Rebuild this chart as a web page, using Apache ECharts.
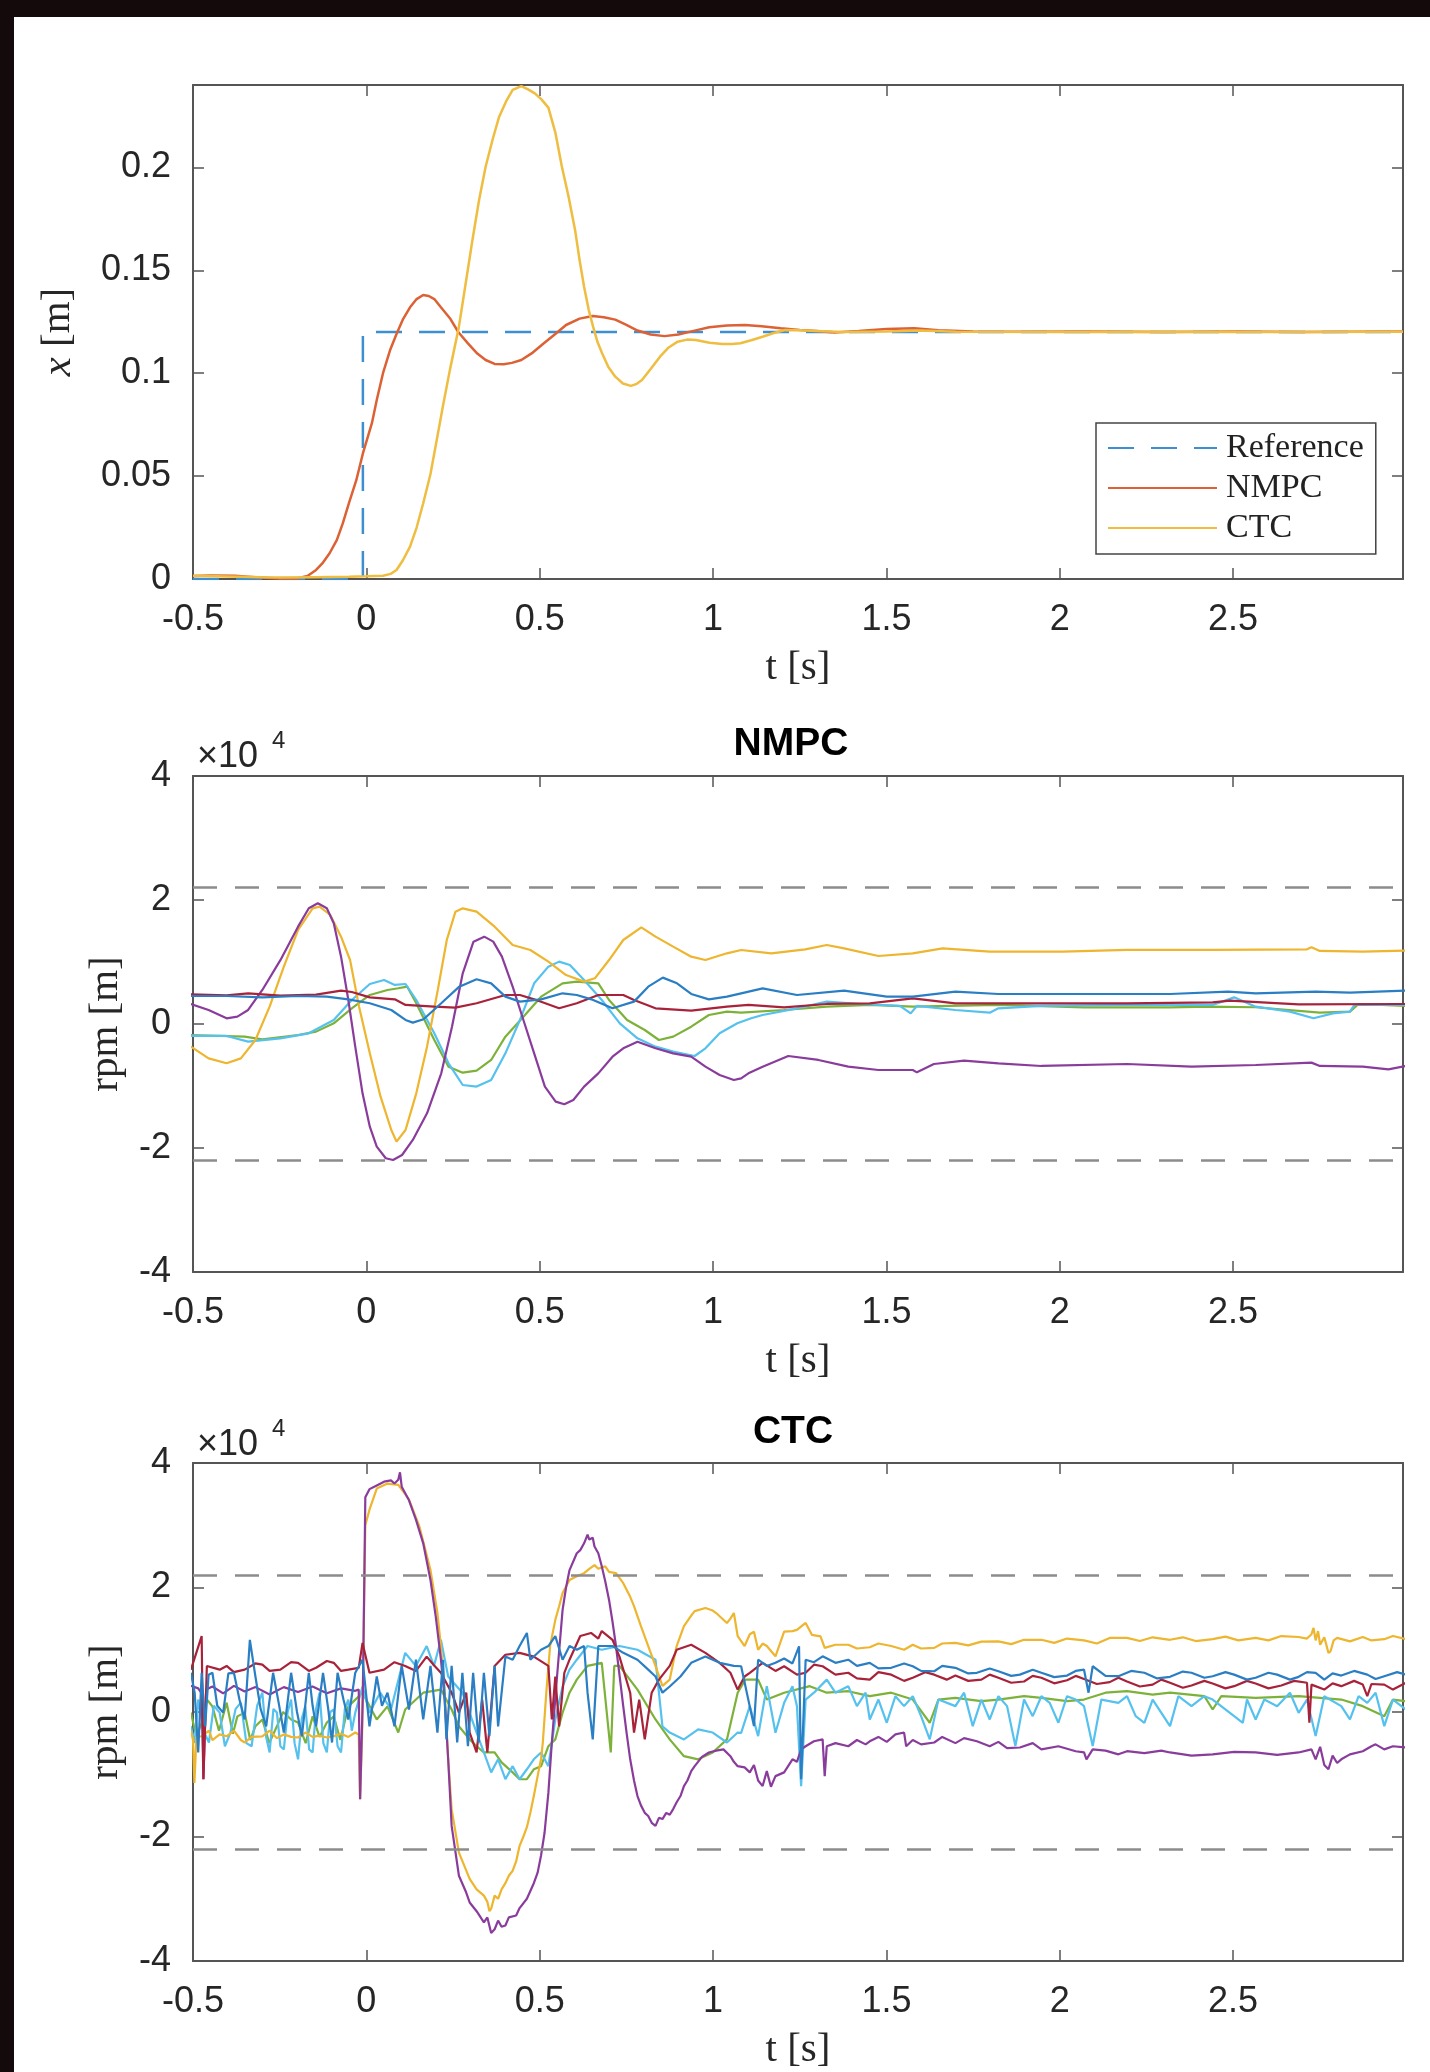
<!DOCTYPE html>
<html><head><meta charset="utf-8">
<script src="https://cdn.jsdelivr.net/npm/echarts@6/dist/echarts.min.js"></script>
<style>
html,body{margin:0;padding:0;width:1430px;height:2072px;background:#140a0c;overflow:hidden;}
#c{position:absolute;left:14px;top:17px;width:1416px;height:2055px;background:#fff;}
</style></head><body><div id="c"></div>
<script>
// ---------- axis ranges / ticks ----------
const T_MIN = -0.5, T_MAX = 2.99, T_STEP = 0.5;
const POS_MIN = 0, POS_MAX = 0.24, POS_STEP = 0.05;
const RPM_MIN = -4, RPM_MAX = 4, RPM_STEP = 2;   // units of 1e4 rpm
const rpmLimits = [2.2, -2.2];
const legendNames = ['Reference', 'NMPC', 'CTC'];

// ---------- top plot: position x [m] vs t [s] ----------
const refPos = [[-0.5,0],[-0.01,0],[-0.01,0.12],[2.99,0.12]];
const nmpcPos = [[-0.5,0.0015],[-0.45,0.0017],[-0.38,0.0016],[-0.32,0.0008],[-0.25,0.0003],[-0.2,0.0003],[-0.17,0.0015],[-0.145,0.0044],[-0.125,0.008],[-0.106,0.0125],[-0.085,0.019],[-0.068,0.027],[-0.05,0.037],[-0.029,0.048],[-0.01,0.061],[0.016,0.0757],[0.03,0.087],[0.048,0.100],[0.068,0.111],[0.087,0.119],[0.105,0.126],[0.126,0.132],[0.145,0.136],[0.164,0.138],[0.18,0.1375],[0.196,0.136],[0.215,0.132],[0.241,0.1267],[0.265,0.12],[0.293,0.1145],[0.32,0.1095],[0.344,0.1064],[0.37,0.1045],[0.396,0.1043],[0.42,0.105],[0.447,0.1064],[0.48,0.110],[0.512,0.1145],[0.545,0.119],[0.576,0.1234],[0.615,0.1265],[0.653,0.1278],[0.685,0.1272],[0.718,0.126],[0.75,0.1235],[0.782,0.1207],[0.82,0.1188],[0.86,0.118],[0.9,0.1188],[0.95,0.1208],[0.989,0.1223],[1.04,0.1232],[1.092,0.1234],[1.14,0.1228],[1.195,0.1218],[1.25,0.121],[1.298,0.1205],[1.35,0.1198],[1.42,0.1205],[1.5,0.1215],[1.58,0.1218],[1.65,0.1208],[1.75,0.1202],[1.9,0.1201],[2.1,0.1203],[2.3,0.1200],[2.5,0.1202],[2.7,0.1200],[2.99,0.1203]];
const ctcPos = [[-0.5,0.0016],[-0.4,0.0012],[-0.3,0.0008],[-0.25,0.0007],[-0.15,0.0009],[-0.05,0.0011],[0.0,0.0013],[0.048,0.0016],[0.07,0.0025],[0.087,0.0044],[0.105,0.009],[0.126,0.0157],[0.145,0.025],[0.164,0.0368],[0.185,0.051],[0.203,0.0675],[0.222,0.085],[0.241,0.1016],[0.267,0.1226],[0.285,0.142],[0.306,0.1647],[0.325,0.184],[0.344,0.2003],[0.365,0.214],[0.383,0.2246],[0.403,0.232],[0.422,0.2376],[0.447,0.2395],[0.465,0.238],[0.486,0.2359],[0.505,0.233],[0.525,0.229],[0.545,0.217],[0.564,0.2003],[0.583,0.186],[0.602,0.1696],[0.615,0.155],[0.628,0.142],[0.641,0.131],[0.654,0.1226],[0.667,0.115],[0.68,0.1097],[0.698,0.103],[0.718,0.0983],[0.74,0.095],[0.763,0.0938],[0.78,0.0948],[0.795,0.0967],[0.82,0.102],[0.847,0.108],[0.872,0.1125],[0.898,0.1153],[0.925,0.1163],[0.950,0.1161],[0.99,0.1148],[1.027,0.1142],[1.055,0.1142],[1.079,0.1145],[1.11,0.116],[1.143,0.1177],[1.175,0.1195],[1.208,0.121],[1.25,0.1208],[1.298,0.1205],[1.375,0.1200],[1.5,0.1202],[1.6,0.1207],[1.7,0.1201],[2.0,0.1200],[2.3,0.1201],[2.6,0.1200],[2.99,0.1201]];

// ---------- middle plot: NMPC motor speeds (x1e4 rpm) ----------
const nmpcBlue = [[-0.506,0.452],[-0.403,0.452],[-0.300,0.43],[-0.197,0.452],[-0.114,0.441],[-0.052,0.398],[0.010,0.334],[0.072,0.226],[0.113,0.065],[0.134,0.022],[0.165,0.076],[0.216,0.334],[0.268,0.602],[0.318,0.721],[0.360,0.656],[0.401,0.441],[0.443,0.361],[0.504,0.398],[0.566,0.495],[0.607,0.468],[0.649,0.398],[0.710,0.253],[0.772,0.361],[0.813,0.602],[0.855,0.748],[0.896,0.656],[0.937,0.484],[0.988,0.398],[1.040,0.441],[1.081,0.495],[1.143,0.575],[1.242,0.468],[1.378,0.538],[1.501,0.441],[1.576,0.441],[1.699,0.522],[1.823,0.484],[2.070,0.484],[2.318,0.484],[2.485,0.522],[2.565,0.495],[2.738,0.522],[2.837,0.506],[2.998,0.538]];
const nmpcRed = [[-0.506,0.479],[-0.403,0.463],[-0.341,0.495],[-0.248,0.457],[-0.145,0.473],[-0.073,0.538],[-0.042,0.516],[0.010,0.43],[0.082,0.398],[0.113,0.307],[0.196,0.28],[0.257,0.264],[0.318,0.334],[0.401,0.468],[0.443,0.468],[0.484,0.398],[0.556,0.253],[0.607,0.334],[0.669,0.468],[0.741,0.468],[0.772,0.387],[0.834,0.253],[0.937,0.215],[1.040,0.28],[1.102,0.307],[1.205,0.269],[1.328,0.323],[1.452,0.334],[1.576,0.414],[1.699,0.334],[1.947,0.334],[2.194,0.334],[2.441,0.35],[2.491,0.377],[2.689,0.317],[2.998,0.323]];
const nmpcYellow = [[-0.506,-0.365],[-0.455,-0.554],[-0.403,-0.634],[-0.362,-0.554],[-0.320,-0.258],[-0.279,0.28],[-0.238,0.925],[-0.197,1.516],[-0.155,1.866],[-0.135,1.893],[-0.104,1.758],[-0.073,1.409],[-0.047,1.032],[-0.021,0.28],[0.010,-0.473],[0.041,-1.172],[0.072,-1.71],[0.087,-1.898],[0.113,-1.71],[0.144,-1.118],[0.175,-0.365],[0.206,0.549],[0.232,1.355],[0.257,1.812],[0.278,1.866],[0.318,1.812],[0.370,1.57],[0.422,1.274],[0.473,1.194],[0.525,1.006],[0.576,0.79],[0.628,0.683],[0.659,0.737],[0.700,1.032],[0.741,1.355],[0.793,1.559],[0.834,1.409],[0.885,1.248],[0.937,1.086],[0.978,1.032],[1.040,1.14],[1.081,1.194],[1.168,1.14],[1.266,1.204],[1.328,1.274],[1.378,1.22],[1.477,1.097],[1.576,1.14],[1.662,1.22],[1.798,1.167],[2.009,1.167],[2.194,1.194],[2.441,1.194],[2.713,1.204],[2.726,1.237],[2.750,1.178],[2.874,1.167],[2.998,1.183]];
const nmpcPurple = [[-0.506,0.323],[-0.455,0.226],[-0.403,0.092],[-0.372,0.118],[-0.341,0.226],[-0.300,0.549],[-0.248,1.03],[-0.197,1.57],[-0.166,1.866],[-0.140,1.947],[-0.114,1.866],[-0.094,1.624],[-0.073,1.086],[-0.052,0.387],[-0.032,-0.365],[-0.011,-1.118],[0.010,-1.656],[0.030,-1.978],[0.056,-2.166],[0.077,-2.193],[0.103,-2.113],[0.134,-1.87],[0.175,-1.44],[0.216,-0.796],[0.247,-0.043],[0.278,0.818],[0.309,1.328],[0.340,1.409],[0.366,1.328],[0.391,1.086],[0.422,0.602],[0.453,0.065],[0.484,-0.473],[0.515,-1.01],[0.546,-1.252],[0.571,-1.295],[0.597,-1.226],[0.628,-1.01],[0.669,-0.796],[0.710,-0.527],[0.741,-0.392],[0.782,-0.285],[0.834,-0.392],[0.885,-0.473],[0.937,-0.527],[0.978,-0.688],[1.019,-0.822],[1.060,-0.903],[1.081,-0.876],[1.102,-0.796],[1.143,-0.688],[1.217,-0.516],[1.304,-0.58],[1.390,-0.688],[1.477,-0.742],[1.576,-0.742],[1.588,-0.78],[1.637,-0.645],[1.724,-0.591],[1.823,-0.634],[1.947,-0.677],[2.194,-0.645],[2.380,-0.688],[2.565,-0.661],[2.726,-0.623],[2.750,-0.677],[2.874,-0.688],[2.948,-0.731],[2.998,-0.677]];
const nmpcGreen = [[-0.506,-0.177],[-0.351,-0.204],[-0.300,-0.247],[-0.197,-0.177],[-0.145,-0.123],[-0.094,0.011],[-0.042,0.253],[0.010,0.468],[0.061,0.549],[0.092,0.576],[0.118,0.602],[0.144,0.334],[0.196,-0.258],[0.237,-0.688],[0.278,-0.785],[0.318,-0.753],[0.360,-0.58],[0.401,-0.204],[0.453,0.118],[0.504,0.441],[0.566,0.656],[0.607,0.683],[0.669,0.656],[0.700,0.387],[0.752,0.065],[0.803,-0.097],[0.844,-0.258],[0.885,-0.204],[0.937,-0.043],[0.988,0.145],[1.040,0.199],[1.081,0.183],[1.205,0.226],[1.328,0.28],[1.452,0.307],[1.576,0.28],[1.823,0.307],[2.070,0.269],[2.318,0.269],[2.429,0.28],[2.565,0.27],[2.750,0.183],[2.837,0.199],[2.862,0.323],[2.998,0.291]];
const nmpcCyan = [[-0.506,-0.193],[-0.403,-0.193],[-0.341,-0.285],[-0.248,-0.231],[-0.166,-0.15],[-0.094,0.065],[-0.042,0.387],[0.010,0.645],[0.051,0.71],[0.082,0.63],[0.113,0.645],[0.144,0.387],[0.196,-0.15],[0.237,-0.634],[0.278,-0.984],[0.318,-1.01],[0.360,-0.903],[0.401,-0.473],[0.443,0.065],[0.484,0.656],[0.525,0.925],[0.556,1.006],[0.587,0.952],[0.628,0.71],[0.679,0.387],[0.731,0.011],[0.782,-0.231],[0.834,-0.365],[0.885,-0.446],[0.947,-0.516],[0.978,-0.392],[1.019,-0.15],[1.070,0.011],[1.110,0.092],[1.143,0.145],[1.242,0.253],[1.328,0.361],[1.427,0.323],[1.539,0.291],[1.570,0.172],[1.588,0.291],[1.699,0.226],[1.798,0.183],[1.823,0.253],[1.947,0.291],[2.194,0.307],[2.441,0.307],[2.503,0.43],[2.565,0.28],[2.664,0.199],[2.732,0.092],[2.788,0.172],[2.837,0.199],[2.850,0.307],[2.998,0.307]];

// ---------- bottom plot: CTC motor speeds (x1e4 rpm) ----------
const ctcBlue = [[-0.506,0.63],[-0.495,0.30],[-0.485,-0.65],[-0.475,0.63],[-0.465,-0.23],[-0.455,0.60],[-0.444,0.63],[-0.430,0.10],[-0.413,-0.01],[-0.398,0.62],[-0.382,0.63],[-0.366,0.20],[-0.351,-0.12],[-0.336,1.16],[-0.320,0.57],[-0.305,0.05],[-0.289,-0.23],[-0.269,0.63],[-0.253,0.15],[-0.238,-0.33],[-0.217,0.63],[-0.200,0.00],[-0.186,-0.39],[-0.166,0.63],[-0.155,0.10],[-0.145,-0.23],[-0.125,0.63],[-0.110,0.05],[-0.099,-0.49],[-0.083,0.63],[-0.066,0.20],[-0.052,-0.12],[-0.032,0.63],[-0.011,0.84],[0.009,-0.23],[0.030,0.57],[0.045,0.10],[0.061,0.31],[0.081,-0.23],[0.102,0.74],[0.123,0.04],[0.143,0.84],[0.164,-0.12],[0.185,0.74],[0.205,-0.33],[0.221,0.84],[0.231,-0.44],[0.246,0.74],[0.262,-0.49],[0.277,0.63],[0.293,-0.55],[0.308,0.63],[0.324,-0.49],[0.339,0.63],[0.355,-0.39],[0.370,0.74],[0.380,-0.23],[0.401,0.89],[0.422,0.84],[0.442,1.06],[0.463,1.27],[0.473,0.84],[0.504,1.0],[0.525,1.06],[0.545,1.22],[0.566,0.84],[0.586,1.06],[0.607,1.0],[0.628,1.06],[0.638,0.31],[0.653,-0.44],[0.669,1.06],[0.710,1.06],[0.741,0.95],[0.782,0.84],[0.813,0.68],[0.834,0.57],[0.854,0.31],[0.875,0.41],[0.906,0.57],[0.937,0.79],[0.978,0.89],[1.019,0.79],[1.060,0.74],[1.081,0.735],[1.118,-0.227],[1.130,0.84],[1.155,0.74],[1.180,0.79],[1.205,0.86],[1.229,0.78],[1.248,1.055],[1.254,-1.08],[1.267,0.84],[1.291,0.80],[1.316,0.895],[1.353,0.79],[1.390,0.84],[1.415,0.74],[1.452,0.79],[1.477,0.70],[1.514,0.71],[1.551,0.78],[1.576,0.735],[1.600,0.66],[1.638,0.655],[1.661,0.74],[1.699,0.71],[1.736,0.62],[1.761,0.63],[1.798,0.70],[1.823,0.655],[1.860,0.58],[1.885,0.60],[1.922,0.68],[1.947,0.63],[1.984,0.56],[2.021,0.585],[2.046,0.66],[2.070,0.68],[2.083,0.31],[2.095,0.735],[2.132,0.58],[2.169,0.575],[2.206,0.66],[2.244,0.63],[2.281,0.54],[2.318,0.565],[2.355,0.65],[2.380,0.63],[2.417,0.55],[2.441,0.575],[2.478,0.64],[2.503,0.60],[2.540,0.52],[2.565,0.55],[2.602,0.63],[2.627,0.60],[2.664,0.52],[2.689,0.565],[2.713,0.64],[2.738,0.63],[2.763,0.52],[2.787,0.62],[2.812,0.585],[2.849,0.66],[2.887,0.60],[2.911,0.53],[2.936,0.575],[2.973,0.64],[2.998,0.60]];
const ctcRed = [[-0.506,0.68],[-0.475,1.22],[-0.470,-1.08],[-0.460,0.74],[-0.423,0.68],[-0.403,0.74],[-0.382,0.64],[-0.351,0.68],[-0.320,0.78],[-0.300,0.76],[-0.279,0.66],[-0.248,0.68],[-0.217,0.80],[-0.197,0.79],[-0.166,0.66],[-0.145,0.71],[-0.114,0.82],[-0.094,0.79],[-0.073,0.66],[-0.052,0.68],[-0.022,0.71],[-0.011,1.11],[0.009,0.63],[0.051,0.68],[0.081,0.80],[0.112,0.74],[0.143,0.66],[0.174,0.89],[0.195,0.75],[0.215,0.63],[0.246,0.31],[0.267,-0.01],[0.288,0.31],[0.298,-0.33],[0.318,-0.65],[0.334,0.20],[0.349,-0.65],[0.370,0.74],[0.401,0.92],[0.442,0.95],[0.483,0.89],[0.525,0.74],[0.535,-0.12],[0.545,0.57],[0.556,-0.23],[0.571,0.63],[0.586,0.84],[0.617,1.22],[0.648,1.27],[0.669,1.18],[0.679,1.30],[0.710,1.16],[0.730,0.89],[0.761,0.31],[0.772,-0.33],[0.787,0.20],[0.803,-0.44],[0.823,0.31],[0.844,0.52],[0.875,0.74],[0.895,1.0],[0.937,1.08],[0.978,0.95],[1.019,0.79],[1.050,0.63],[1.071,0.36],[1.091,0.57],[1.106,0.63],[1.143,0.79],[1.180,0.66],[1.205,0.735],[1.242,0.60],[1.267,0.63],[1.291,0.76],[1.316,0.735],[1.353,0.60],[1.390,0.63],[1.415,0.54],[1.452,0.52],[1.477,0.64],[1.514,0.60],[1.551,0.50],[1.576,0.55],[1.612,0.64],[1.638,0.60],[1.674,0.52],[1.699,0.585],[1.736,0.50],[1.774,0.52],[1.798,0.60],[1.823,0.55],[1.860,0.47],[1.897,0.49],[1.922,0.58],[1.947,0.55],[1.984,0.46],[2.021,0.51],[2.046,0.58],[2.070,0.53],[2.107,0.45],[2.144,0.48],[2.169,0.55],[2.194,0.49],[2.231,0.41],[2.268,0.44],[2.293,0.52],[2.318,0.47],[2.355,0.39],[2.380,0.425],[2.417,0.50],[2.441,0.457],[2.478,0.38],[2.503,0.415],[2.540,0.50],[2.565,0.457],[2.602,0.38],[2.639,0.425],[2.676,0.50],[2.713,0.47],[2.720,-0.173],[2.726,0.44],[2.763,0.36],[2.787,0.46],[2.812,0.415],[2.849,0.50],[2.874,0.44],[2.887,0.254],[2.899,0.45],[2.936,0.44],[2.961,0.36],[2.998,0.47]];
const ctcYellow = [[-0.506,-0.30],[-0.500,-0.45],[-0.496,-1.14],[-0.490,-0.40],[-0.475,-0.39],[-0.454,-0.30],[-0.444,-0.45],[-0.423,-0.36],[-0.403,-0.39],[-0.382,-0.30],[-0.362,-0.45],[-0.351,-0.49],[-0.331,-0.40],[-0.300,-0.39],[-0.279,-0.30],[-0.258,-0.42],[-0.238,-0.36],[-0.217,-0.40],[-0.197,-0.41],[-0.176,-0.33],[-0.155,-0.40],[-0.135,-0.38],[-0.114,-0.41],[-0.094,-0.39],[-0.073,-0.35],[-0.052,-0.40],[-0.032,-0.33],[-0.022,-0.36],[-0.018,-1.40],[-0.012,-0.30],[-0.003,3.00],[0.009,3.25],[0.030,3.59],[0.061,3.67],[0.092,3.65],[0.112,3.50],[0.123,3.41],[0.153,2.98],[0.185,2.28],[0.205,1.59],[0.215,1.06],[0.226,0.31],[0.236,-0.76],[0.246,-1.56],[0.267,-2.26],[0.298,-2.68],[0.318,-2.85],[0.339,-2.95],[0.349,-3.05],[0.355,-3.20],[0.360,-3.16],[0.370,-2.95],[0.380,-3.00],[0.390,-2.85],[0.401,-2.75],[0.411,-2.63],[0.422,-2.55],[0.432,-2.40],[0.442,-2.15],[0.453,-2.0],[0.463,-1.85],[0.473,-1.62],[0.483,-1.35],[0.494,-1.03],[0.504,-0.75],[0.509,-0.49],[0.519,0.31],[0.530,1.06],[0.545,1.48],[0.556,1.70],[0.566,1.91],[0.586,2.12],[0.607,2.18],[0.628,2.23],[0.643,2.30],[0.658,2.36],[0.669,2.30],[0.689,2.34],[0.700,2.25],[0.720,2.23],[0.741,2.07],[0.761,1.85],[0.772,1.70],[0.792,1.38],[0.813,1.06],[0.834,0.74],[0.854,0.42],[0.875,0.52],[0.895,1.06],[0.916,1.38],[0.937,1.55],[0.947,1.62],[0.978,1.67],[0.999,1.63],[1.009,1.59],[1.040,1.43],[1.050,1.50],[1.060,1.59],[1.071,1.22],[1.091,1.06],[1.106,1.25],[1.118,1.29],[1.130,1.00],[1.143,1.10],[1.155,1.06],[1.180,0.895],[1.205,1.29],[1.229,1.30],[1.242,1.32],[1.267,1.43],[1.285,1.24],[1.310,1.215],[1.322,1.03],[1.353,1.08],[1.390,1.08],[1.415,1.02],[1.452,1.04],[1.477,1.10],[1.514,1.06],[1.551,1.00],[1.576,1.08],[1.600,1.02],[1.638,1.03],[1.661,1.10],[1.699,1.11],[1.736,1.07],[1.774,1.13],[1.823,1.135],[1.860,1.09],[1.897,1.16],[1.947,1.16],[1.984,1.11],[2.021,1.18],[2.070,1.15],[2.107,1.10],[2.144,1.19],[2.194,1.19],[2.231,1.14],[2.268,1.20],[2.318,1.16],[2.355,1.20],[2.392,1.14],[2.441,1.17],[2.478,1.21],[2.515,1.15],[2.565,1.19],[2.602,1.15],[2.639,1.22],[2.689,1.205],[2.713,1.18],[2.726,1.25],[2.732,1.35],[2.738,1.15],[2.745,1.30],[2.751,1.08],[2.763,1.20],[2.775,0.95],[2.781,0.975],[2.790,1.15],[2.800,1.19],[2.837,1.135],[2.874,1.205],[2.899,1.15],[2.936,1.17],[2.961,1.22],[2.998,1.17]];
const ctcPurple = [[-0.506,0.42],[-0.485,0.38],[-0.475,0.30],[-0.470,-1.08],[-0.462,0.36],[-0.444,0.41],[-0.413,0.30],[-0.382,0.42],[-0.351,0.33],[-0.320,0.40],[-0.279,0.28],[-0.238,0.40],[-0.197,0.32],[-0.155,0.41],[-0.114,0.30],[-0.073,0.38],[-0.032,0.34],[-0.022,0.36],[-0.018,-1.40],[-0.010,0.30],[-0.003,3.45],[0.009,3.58],[0.030,3.64],[0.051,3.70],[0.071,3.72],[0.081,3.67],[0.092,3.73],[0.097,3.85],[0.102,3.62],[0.123,3.40],[0.143,3.09],[0.164,2.71],[0.185,2.12],[0.200,1.54],[0.215,0.85],[0.226,0.20],[0.236,-0.76],[0.246,-1.83],[0.267,-2.63],[0.288,-2.90],[0.298,-3.06],[0.318,-3.20],[0.339,-3.38],[0.349,-3.30],[0.360,-3.55],[0.370,-3.49],[0.380,-3.35],[0.390,-3.45],[0.401,-3.43],[0.411,-3.30],[0.432,-3.27],[0.442,-3.15],[0.463,-3.0],[0.483,-2.75],[0.494,-2.58],[0.504,-2.30],[0.514,-1.94],[0.525,-1.30],[0.535,-0.49],[0.550,0.57],[0.566,1.64],[0.576,2.0],[0.586,2.28],[0.607,2.55],[0.617,2.60],[0.628,2.71],[0.638,2.85],[0.643,2.77],[0.653,2.80],[0.658,2.66],[0.669,2.55],[0.679,2.34],[0.689,2.10],[0.700,1.80],[0.710,1.45],[0.720,1.06],[0.730,0.60],[0.741,0.09],[0.751,-0.35],[0.761,-0.76],[0.772,-1.10],[0.782,-1.35],[0.792,-1.50],[0.803,-1.62],[0.813,-1.67],[0.823,-1.78],[0.834,-1.83],[0.844,-1.70],[0.854,-1.72],[0.865,-1.62],[0.875,-1.65],[0.885,-1.56],[0.895,-1.45],[0.906,-1.35],[0.916,-1.19],[0.926,-1.10],[0.937,-0.95],[0.947,-0.87],[0.968,-0.72],[0.988,-0.65],[1.009,-0.62],[1.030,-0.60],[1.050,-0.71],[1.060,-0.80],[1.071,-0.87],[1.091,-0.89],[1.106,-0.97],[1.118,-0.85],[1.130,-1.10],[1.143,-1.19],[1.155,-0.95],[1.167,-1.20],[1.180,-1.03],[1.205,-0.97],[1.229,-0.76],[1.242,-0.80],[1.254,-0.60],[1.267,-0.55],[1.291,-0.47],[1.316,-0.44],[1.322,-1.03],[1.328,-0.55],[1.353,-0.50],[1.390,-0.55],[1.415,-0.45],[1.440,-0.52],[1.452,-0.47],[1.477,-0.40],[1.501,-0.48],[1.526,-0.36],[1.551,-0.33],[1.557,-0.55],[1.576,-0.45],[1.600,-0.52],[1.638,-0.49],[1.661,-0.40],[1.699,-0.50],[1.724,-0.42],[1.761,-0.47],[1.798,-0.55],[1.823,-0.48],[1.848,-0.58],[1.885,-0.57],[1.922,-0.50],[1.947,-0.60],[1.996,-0.55],[2.046,-0.63],[2.070,-0.65],[2.077,-0.76],[2.095,-0.60],[2.132,-0.62],[2.169,-0.68],[2.194,-0.63],[2.244,-0.66],[2.293,-0.62],[2.318,-0.65],[2.380,-0.70],[2.441,-0.68],[2.503,-0.64],[2.565,-0.65],[2.627,-0.69],[2.689,-0.65],[2.726,-0.60],[2.738,-0.76],[2.751,-0.56],[2.763,-0.85],[2.775,-0.92],[2.787,-0.70],[2.800,-0.82],[2.812,-0.76],[2.837,-0.68],[2.874,-0.63],[2.899,-0.55],[2.911,-0.52],[2.936,-0.60],[2.961,-0.55],[2.998,-0.57]];
const ctcGreen = [[-0.506,-0.01],[-0.490,-0.40],[-0.475,-0.17],[-0.460,0.20],[-0.444,0.09],[-0.425,-0.30],[-0.403,0.15],[-0.385,-0.35],[-0.372,-0.07],[-0.351,-0.01],[-0.335,-0.45],[-0.320,-0.23],[-0.300,-0.12],[-0.280,-0.50],[-0.258,-0.23],[-0.240,0.00],[-0.217,-0.12],[-0.197,-0.17],[-0.175,-0.50],[-0.155,-0.07],[-0.135,-0.40],[-0.114,-0.17],[-0.094,-0.07],[-0.075,-0.45],[-0.052,0.09],[-0.011,0.31],[0.030,-0.12],[0.061,0.09],[0.092,-0.33],[0.112,0.04],[0.164,0.31],[0.215,0.36],[0.246,0.04],[0.267,-0.23],[0.298,-0.44],[0.318,-0.55],[0.339,-0.65],[0.370,-0.65],[0.390,-0.81],[0.422,-0.97],[0.442,-1.08],[0.463,-1.08],[0.483,-0.92],[0.504,-0.87],[0.525,-0.55],[0.545,-0.44],[0.566,-0.01],[0.586,0.31],[0.607,0.52],[0.638,0.74],[0.679,0.79],[0.705,-0.65],[0.715,0.74],[0.730,0.74],[0.782,0.36],[0.834,-0.12],[0.875,-0.44],[0.916,-0.71],[0.957,-0.76],[0.999,-0.65],[1.040,-0.44],[1.071,0.31],[1.093,0.52],[1.130,0.52],[1.155,0.20],[1.205,0.31],[1.279,0.415],[1.328,0.31],[1.390,0.334],[1.452,0.254],[1.514,0.31],[1.576,0.20],[1.625,-0.173],[1.650,0.20],[1.699,0.227],[1.774,0.174],[1.823,0.20],[1.897,0.254],[1.947,0.227],[2.021,0.174],[2.070,0.20],[2.132,0.31],[2.194,0.334],[2.268,0.28],[2.318,0.31],[2.417,0.254],[2.441,0.04],[2.466,0.254],[2.565,0.227],[2.689,0.254],[2.812,0.20],[2.874,0.094],[2.936,-0.067],[2.961,0.20],[2.998,0.174]];
const ctcCyan = [[-0.506,-0.23],[-0.495,-0.50],[-0.485,0.20],[-0.470,-0.30],[-0.454,-0.49],[-0.440,0.10],[-0.423,-0.01],[-0.408,-0.55],[-0.392,-0.33],[-0.377,0.05],[-0.362,0.15],[-0.346,-0.50],[-0.331,-0.55],[-0.315,0.10],[-0.300,0.31],[-0.289,-0.40],[-0.279,-0.65],[-0.268,0.05],[-0.258,-0.01],[-0.248,-0.55],[-0.238,-0.60],[-0.227,0.00],[-0.217,0.20],[-0.207,-0.50],[-0.197,-0.76],[-0.186,-0.10],[-0.176,0.09],[-0.165,-0.60],[-0.155,-0.65],[-0.145,0.05],[-0.135,0.31],[-0.124,-0.50],[-0.114,-0.65],[-0.104,0.00],[-0.094,0.04],[-0.083,-0.55],[-0.073,-0.65],[-0.062,0.05],[-0.052,0.20],[-0.042,-0.30],[-0.032,-0.01],[-0.011,0.41],[0.009,-0.01],[0.040,0.31],[0.071,0.04],[0.112,0.95],[0.143,0.74],[0.174,1.06],[0.195,0.74],[0.215,1.16],[0.236,0.57],[0.277,0.31],[0.318,-0.33],[0.339,-0.65],[0.360,-0.97],[0.380,-0.76],[0.401,-1.08],[0.422,-0.87],[0.442,-1.08],[0.463,-0.92],[0.483,-0.76],[0.504,-0.65],[0.525,-0.87],[0.545,-0.12],[0.566,0.41],[0.586,0.68],[0.607,0.84],[0.638,1.06],[0.679,1.0],[0.730,1.06],[0.782,1.0],[0.834,0.84],[0.854,-0.23],[0.875,-0.33],[0.916,-0.44],[0.957,-0.28],[0.999,-0.33],[1.040,-0.49],[1.071,-0.33],[1.081,-0.334],[1.106,0.094],[1.130,-0.387],[1.155,0.415],[1.180,-0.334],[1.205,0.147],[1.229,0.415],[1.242,0.094],[1.254,-1.19],[1.267,0.20],[1.291,0.31],[1.328,0.52],[1.353,0.31],[1.390,0.415],[1.415,0.094],[1.440,0.31],[1.452,-0.12],[1.477,0.20],[1.501,-0.173],[1.526,0.254],[1.551,0.094],[1.576,0.254],[1.600,-0.067],[1.625,-0.44],[1.650,0.20],[1.699,0.094],[1.724,0.31],[1.749,-0.227],[1.774,0.20],[1.798,-0.12],[1.823,0.254],[1.848,0.094],[1.872,-0.547],[1.897,0.20],[1.922,-0.067],[1.947,0.254],[1.971,0.147],[1.996,-0.173],[2.021,0.254],[2.046,0.20],[2.070,0.094],[2.095,-0.547],[2.120,0.20],[2.169,0.147],[2.194,0.254],[2.219,-0.067],[2.244,-0.173],[2.268,0.20],[2.293,-0.013],[2.318,-0.227],[2.342,0.254],[2.380,0.094],[2.417,0.254],[2.441,0.20],[2.503,-0.067],[2.528,-0.173],[2.540,0.20],[2.565,-0.12],[2.590,0.20],[2.627,0.094],[2.664,0.31],[2.689,-0.013],[2.713,0.20],[2.738,-0.387],[2.763,0.254],[2.812,0.094],[2.837,-0.12],[2.862,0.254],[2.887,0.147],[2.911,0.31],[2.936,-0.227],[2.961,0.20],[2.998,0.04]];

// ---------- styling ----------
const AX = '#555';
const LBL = '#262626';
const C = {blue:'#2a7ec4', red:'#a8223a', yellow:'#eeb52e', purple:'#8a3c9c', green:'#7db23a', cyan:'#55c1ee'};
const GRIDS = [
  {left:179, right:27, top:68, height:494},
  {left:179, right:27, top:759, height:496},
  {left:179, right:27, top:1446, height:499}
];

function axLine(){ return {show:true, onZero:false, lineStyle:{color:AX, width:2}}; }
function axTick(){ return {show:true, inside:true, length:11, lineStyle:{color:AX, width:1.5}}; }

const xAxis = [], yAxis = [];
GRIDS.forEach((g, i) => {
  xAxis.push({type:'value', gridIndex:i, position:'bottom', min:T_MIN, max:T_MAX, interval:T_STEP,
    axisLine:axLine(), axisTick:axTick(), splitLine:{show:false},
    axisLabel:{margin:23, fontSize:36, color:LBL, fontFamily:'Liberation Sans', showMaxLabel:false},
    name:'t [s]', nameLocation:'middle', nameGap:69,
    nameTextStyle:{fontFamily:'Liberation Serif', fontSize:41, color:LBL}});
  xAxis.push({type:'value', gridIndex:i, position:'top', min:T_MIN, max:T_MAX, interval:T_STEP,
    axisLine:axLine(), axisTick:axTick(), splitLine:{show:false}, axisLabel:{show:false}});
  const isPos = i === 0;
  yAxis.push({type:'value', gridIndex:i, position:'left',
    min: isPos ? POS_MIN : RPM_MIN, max: isPos ? POS_MAX : RPM_MAX, interval: isPos ? POS_STEP : RPM_STEP,
    axisLine:axLine(), axisTick:axTick(), splitLine:{show:false},
    axisLabel:{margin:22, fontSize:36, color:LBL, fontFamily:'Liberation Sans', showMaxLabel: isPos ? false : true},
    name: isPos ? '{i|x} [m]' : 'rpm [m]', nameLocation:'middle', nameGap: isPos ? 113 : 66,
    nameTextStyle:{fontFamily:'Liberation Serif', fontSize:41, color:LBL,
      rich:{i:{fontFamily:'Liberation Serif', fontStyle:'italic', fontSize:43, color:LBL}}}});
  yAxis.push({type:'value', gridIndex:i, position:'right',
    min: isPos ? POS_MIN : RPM_MIN, max: isPos ? POS_MAX : RPM_MAX, interval: isPos ? POS_STEP : RPM_STEP,
    axisLine:axLine(), axisTick:axTick(), splitLine:{show:false}, axisLabel:{show:false}});
});

function line(name, data, color, gi, extra) {
  return Object.assign({type:'line', name, data, xAxisIndex:gi*2, yAxisIndex:gi*2,
    symbol:'none', showSymbol:false, clip:true, silent:true, animation:false,
    lineStyle:{color, width:2.2}, itemStyle:{color}}, extra || {});
}
function limitLines() {
  return {silent:true, symbol:'none', animation:false, label:{show:false},
    lineStyle:{type:[24,18], color:'#8c8c8c', width:2.5},
    data: rpmLimits.map(v => ({yAxis:v}))};
}

const series = [
  line('Reference', refPos, '#3d8fd1', 0, {lineStyle:{color:'#3d8fd1', width:2.5, type:[26,17]}}),
  line('NMPC', nmpcPos, '#dc6134', 0, {lineStyle:{color:'#dc6134', width:2.5}}),
  line('CTC', ctcPos, '#efbd3f', 0, {lineStyle:{color:'#efbd3f', width:2.5}}),

  line('n-green', nmpcGreen, C.green, 1, {markLine: limitLines()}),
  line('n-cyan', nmpcCyan, C.cyan, 1),
  line('n-yellow', nmpcYellow, C.yellow, 1),
  line('n-purple', nmpcPurple, C.purple, 1),
  line('n-red', nmpcRed, C.red, 1),
  line('n-blue', nmpcBlue, C.blue, 1),

  line('c-green', ctcGreen, C.green, 2, {markLine: limitLines()}),
  line('c-cyan', ctcCyan, C.cyan, 2),
  line('c-yellow', ctcYellow, C.yellow, 2),
  line('c-purple', ctcPurple, C.purple, 2),
  line('c-red', ctcRed, C.red, 2),
  line('c-blue', ctcBlue, C.blue, 2)
];

const chart = echarts.init(document.getElementById('c'), null, {renderer:'canvas'});
chart.setOption({
  animation:false,
  backgroundColor:'#ffffff',
  grid: GRIDS,
  xAxis, yAxis, series,
  legend: {data:legendNames, orient:'vertical', left:1082, top:406,
    itemWidth:109, itemHeight:14, itemGap:0, padding:[5,12,6,11],
    itemStyle:{opacity:0, borderWidth:0},
    backgroundColor:'#fff', borderColor:'#444', borderWidth:1.5, selectedMode:false,
    textStyle:{fontFamily:'Liberation Serif', fontSize:34, color:'#222', lineHeight:40, padding:[0,0,0,4]}},
  graphic: [
    {type:'text', x:777, y:727, style:{text:'NMPC', fontSize:39, fontWeight:'bold', fontFamily:'Liberation Sans', fill:'#000', align:'center', verticalAlign:'middle'}},
    {type:'text', x:779, y:1415, style:{text:'CTC', fontSize:39, fontWeight:'bold', fontFamily:'Liberation Sans', fill:'#000', align:'center', verticalAlign:'middle'}},
    {type:'text', x:183, y:740, style:{text:'×10', fontSize:36, fontFamily:'Liberation Sans', fill:LBL, align:'left', verticalAlign:'middle'}},
    {type:'text', x:258, y:724, style:{text:'4', fontSize:24, fontFamily:'Liberation Sans', fill:LBL, align:'left', verticalAlign:'middle'}},
    {type:'text', x:183, y:1428, style:{text:'×10', fontSize:36, fontFamily:'Liberation Sans', fill:LBL, align:'left', verticalAlign:'middle'}},
    {type:'text', x:258, y:1412, style:{text:'4', fontSize:24, fontFamily:'Liberation Sans', fill:LBL, align:'left', verticalAlign:'middle'}}
  ]
});
</script></body></html>
